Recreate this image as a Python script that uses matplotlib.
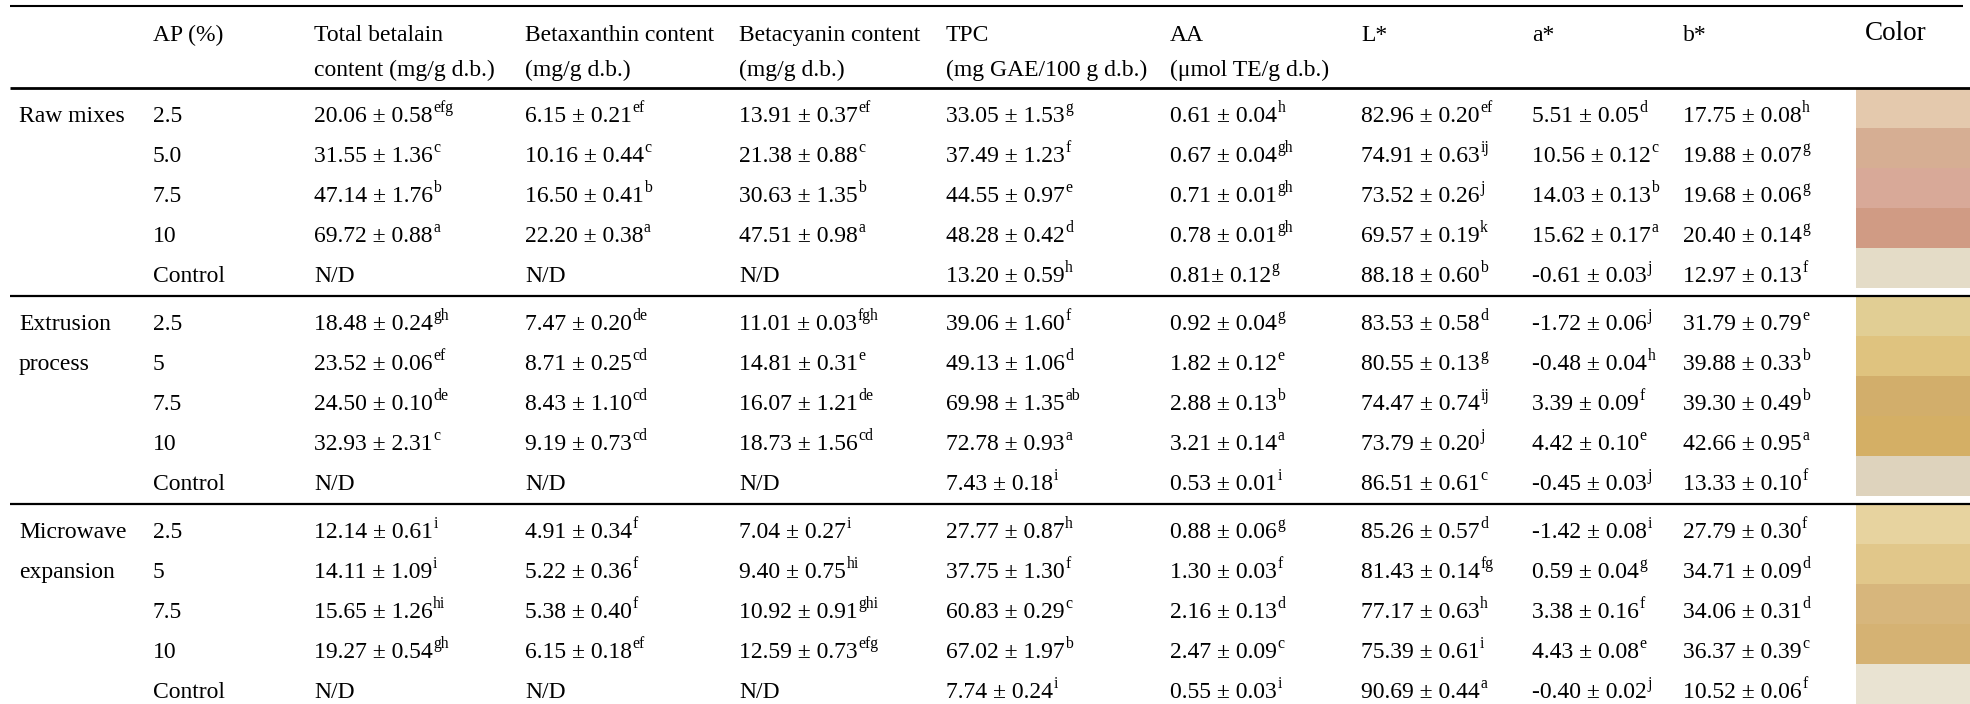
import matplotlib
matplotlib.use("Agg")
import matplotlib.pyplot as plt
from matplotlib.patches import Rectangle

# ---------------- data ----------------
group_labels = [["Raw mixes"], ["Extrusion", "process"], ["Microwave", "expansion"]]
ap_levels = ["2.5", "5.0", "7.5", "10", "Control",
             "2.5", "5", "7.5", "10", "Control",
             "2.5", "5", "7.5", "10", "Control"]

header_line1 = ["AP (%)", "Total betalain", "Betaxanthin content", "Betacyanin content",
                "TPC", "AA", "L*", "a*", "b*"]
header_line2 = ["", "content (mg/g d.b.)", "(mg/g d.b.)", "(mg/g d.b.)",
                "(mg GAE/100 g d.b.)", "(\u03bcmol TE/g d.b.)", "", "", ""]
color_header = "Color"

total_betalain = ["20.06 ± 0.58", "31.55 ± 1.36", "47.14 ± 1.76", "69.72 ± 0.88", "N/D",
                  "18.48 ± 0.24", "23.52 ± 0.06", "24.50 ± 0.10", "32.93 ± 2.31", "N/D",
                  "12.14 ± 0.61", "14.11 ± 1.09", "15.65 ± 1.26", "19.27 ± 0.54", "N/D"]
total_betalain_sup = ["efg", "c", "b", "a", "", "gh", "ef", "de", "c", "", "i", "i", "hi", "gh", ""]

betaxanthin = ["6.15 ± 0.21", "10.16 ± 0.44", "16.50 ± 0.41", "22.20 ± 0.38", "N/D",
               "7.47 ± 0.20", "8.71 ± 0.25", "8.43 ± 1.10", "9.19 ± 0.73", "N/D",
               "4.91 ± 0.34", "5.22 ± 0.36", "5.38 ± 0.40", "6.15 ± 0.18", "N/D"]
betaxanthin_sup = ["ef", "c", "b", "a", "", "de", "cd", "cd", "cd", "", "f", "f", "f", "ef", ""]

betacyanin = ["13.91 ± 0.37", "21.38 ± 0.88", "30.63 ± 1.35", "47.51 ± 0.98", "N/D",
              "11.01 ± 0.03", "14.81 ± 0.31", "16.07 ± 1.21", "18.73 ± 1.56", "N/D",
              "7.04 ± 0.27", "9.40 ± 0.75", "10.92 ± 0.91", "12.59 ± 0.73", "N/D"]
betacyanin_sup = ["ef", "c", "b", "a", "", "fgh", "e", "de", "cd", "", "i", "hi", "ghi", "efg", ""]

tpc = ["33.05 ± 1.53", "37.49 ± 1.23", "44.55 ± 0.97", "48.28 ± 0.42", "13.20 ± 0.59",
       "39.06 ± 1.60", "49.13 ± 1.06", "69.98 ± 1.35", "72.78 ± 0.93", "7.43 ± 0.18",
       "27.77 ± 0.87", "37.75 ± 1.30", "60.83 ± 0.29", "67.02 ± 1.97", "7.74 ± 0.24"]
tpc_sup = ["g", "f", "e", "d", "h", "f", "d", "ab", "a", "i", "h", "f", "c", "b", "i"]

aa = ["0.61 ± 0.04", "0.67 ± 0.04", "0.71 ± 0.01", "0.78 ± 0.01", "0.81± 0.12",
      "0.92 ± 0.04", "1.82 ± 0.12", "2.88 ± 0.13", "3.21 ± 0.14", "0.53 ± 0.01",
      "0.88 ± 0.06", "1.30 ± 0.03", "2.16 ± 0.13", "2.47 ± 0.09", "0.55 ± 0.03"]
aa_sup = ["h", "gh", "gh", "gh", "g", "g", "e", "b", "a", "i", "g", "f", "d", "c", "i"]

l_star = ["82.96 ± 0.20", "74.91 ± 0.63", "73.52 ± 0.26", "69.57 ± 0.19", "88.18 ± 0.60",
          "83.53 ± 0.58", "80.55 ± 0.13", "74.47 ± 0.74", "73.79 ± 0.20", "86.51 ± 0.61",
          "85.26 ± 0.57", "81.43 ± 0.14", "77.17 ± 0.63", "75.39 ± 0.61", "90.69 ± 0.44"]
l_star_sup = ["ef", "ij", "j", "k", "b", "d", "g", "ij", "j", "c", "d", "fg", "h", "i", "a"]

a_star = ["5.51 ± 0.05", "10.56 ± 0.12", "14.03 ± 0.13", "15.62 ± 0.17", "-0.61 ± 0.03",
          "-1.72 ± 0.06", "-0.48 ± 0.04", "3.39 ± 0.09", "4.42 ± 0.10", "-0.45 ± 0.03",
          "-1.42 ± 0.08", "0.59 ± 0.04", "3.38 ± 0.16", "4.43 ± 0.08", "-0.40 ± 0.02"]
a_star_sup = ["d", "c", "b", "a", "j", "j", "h", "f", "e", "j", "i", "g", "f", "e", "j"]

b_star = ["17.75 ± 0.08", "19.88 ± 0.07", "19.68 ± 0.06", "20.40 ± 0.14", "12.97 ± 0.13",
          "31.79 ± 0.79", "39.88 ± 0.33", "39.30 ± 0.49", "42.66 ± 0.95", "13.33 ± 0.10",
          "27.79 ± 0.30", "34.71 ± 0.09", "34.06 ± 0.31", "36.37 ± 0.39", "10.52 ± 0.06"]
b_star_sup = ["h", "g", "g", "g", "f", "e", "b", "b", "a", "f", "f", "d", "d", "c", "f"]

swatch_colors = ["#E4C9AD", "#D6AE93", "#D8A998", "#D09B84", "#E4DCC7",
                 "#E1CE94", "#DFC37F", "#D2AE6B", "#D4AF65", "#DED3BD",
                 "#E7D39F", "#E1C78A", "#D7B67C", "#D5B273", "#E9E3D2"]

# ---------------- layout ----------------
W, H = 1970, 704
FONT = "Liberation Serif"
FS = 17
SUP_FS = 11.3
col_x = [153, 314, 525, 739, 946, 1170, 1361, 1532, 1683]
group_x = 19
color_x0 = 1856
color_text_x = 1865
rule_top = 5.5
rule_header = 88
group_rules = [296, 504]
group_starts = [rule_header, 296, 504]
row_pitch = 40

fig = plt.figure(figsize=(W / 100, H / 100), dpi=100)
ax = fig.add_axes([0, 0, 1, 1])
ax.set_xlim(0, W)
ax.set_ylim(H, 0)
ax.axis("off")
renderer = fig.canvas.get_renderer()


def put(x, y, s, sup=""):
    t = ax.text(x, y, s, fontsize=FS, family=FONT, ha="left", va="baseline", color="black")
    if sup:
        bb = t.get_window_extent(renderer)
        ax.text(bb.x1 + 0.5, y - 9.5, sup, fontsize=SUP_FS, family=FONT,
                ha="left", va="baseline", color="black")


# rules
ax.plot([10, 1963], [rule_top, rule_top], color="black", lw=1.5, solid_capstyle="butt")
ax.plot([10, W], [rule_header, rule_header], color="black", lw=2.0, solid_capstyle="butt")
for ry in group_rules:
    ax.plot([10, W], [ry, ry], color="black", lw=1.6, solid_capstyle="butt")

# header
for x, h1, h2 in zip(col_x, header_line1, header_line2):
    put(x, 41, h1)
    if h2:
        put(x, 76, h2)
ax.text(color_text_x, 40, color_header, fontsize=19.5, family=FONT,
        ha="left", va="baseline", color="black")

# body
columns = [(ap_levels, [""] * 15), (total_betalain, total_betalain_sup),
           (betaxanthin, betaxanthin_sup), (betacyanin, betacyanin_sup),
           (tpc, tpc_sup), (aa, aa_sup), (l_star, l_star_sup),
           (a_star, a_star_sup), (b_star, b_star_sup)]

for g, start in enumerate(group_starts):
    for j, lab in enumerate(group_labels[g]):
        put(group_x, start + row_pitch * (j + 1) - 6, lab)
    for r in range(5):
        idx = g * 5 + r
        top = start + row_pitch * r
        base = top + row_pitch - 6
        for x, (vals, sups) in zip(col_x, columns):
            put(x, base, vals[idx], sups[idx])
        y0 = top + (1.2 if r == 0 else 0)
        ax.add_patch(Rectangle((color_x0, y0), W - color_x0, top + row_pitch - y0,
                               facecolor=swatch_colors[idx], edgecolor="none", lw=0))

fig.savefig("out.png", dpi=100, facecolor="white")
